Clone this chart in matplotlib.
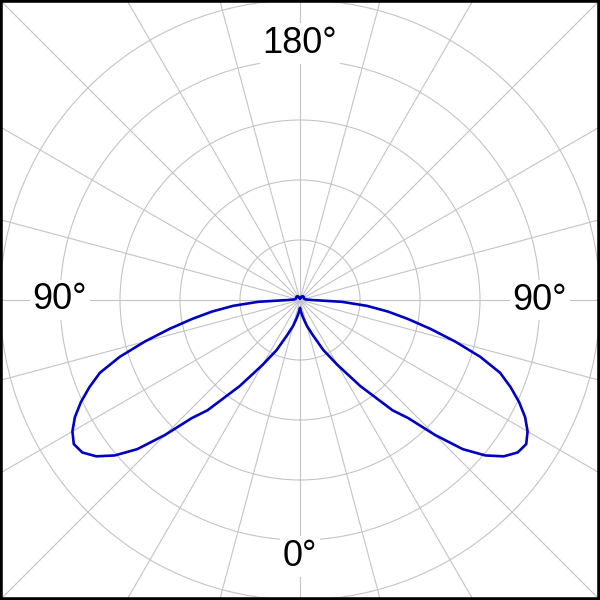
import numpy as np
import matplotlib
matplotlib.use("Agg")
import matplotlib.pyplot as plt
from matplotlib.patches import Rectangle

# light distribution curve (cd/klm), gamma measured from nadir, symmetric
gamma = [0, 5, 10, 15, 20, 25, 30, 35, 40, 42.5, 45, 47.5, 50, 52.5, 55, 57.5,
         60, 62.5, 65, 67.5, 70, 72.5, 75, 77.5, 80, 82.5, 85, 87.5, 90, 95,
         110, 130, 140, 150, 165, 180]
intensity = [13, 20, 30, 45, 62, 92, 125, 175, 240, 267, 318, 368, 403, 428, 443, 447,
             438, 423, 403, 380, 355, 315, 268, 223, 183, 148, 112, 70, 20, 10,
             7, 8, 8, 7, 5, 3]
ring_values = [100, 200, 300, 400, 500]
angle_labels = ["0°", "90°", "180°", "90°"]
label_angles = [0, 90, 180, -90]
label_radii = [427, 400, 427, 400]

# mirror right half to the left side
g = np.array(gamma)
r = np.array(intensity)
theta = np.deg2rad(np.concatenate([-g[::-1], g[1:]]))
rr = np.concatenate([r[::-1], r[1:]])

plt.rcParams['font.family'] = ['Liberation Sans', 'DejaVu Sans']

fig = plt.figure(figsize=(6, 6), dpi=100)
ax = fig.add_axes([-0.3, -0.3, 1.6, 1.6], projection='polar')
ax.set_theta_zero_location('S')
ax.set_theta_direction(1)
ax.set_ylim(0, 800)
ax.set_rticks(ring_values)
ax.set_yticklabels([])
ax.set_thetagrids(np.arange(0, 360, 15), labels=[''] * 24)
ax.grid(True, color='#c4c4c4', linewidth=0.8)
ax.spines['polar'].set_visible(False)
ax.tick_params(length=0)

ax.plot(theta, rr, color='#0000c0', linewidth=1.9, zorder=3)

for txt, a, rad in zip(angle_labels, label_angles, label_radii):
    ax.text(np.deg2rad(a), rad, txt, fontsize=26, ha='center', va='center',
            bbox=dict(facecolor='white', edgecolor='none', pad=2), zorder=4)

# black frame round the picture
fig.patches.append(Rectangle((0, 0), 1, 1, transform=fig.transFigure, fill=False,
                             edgecolor='black', linewidth=4, zorder=10))

fig.savefig("out.png", dpi=100)
